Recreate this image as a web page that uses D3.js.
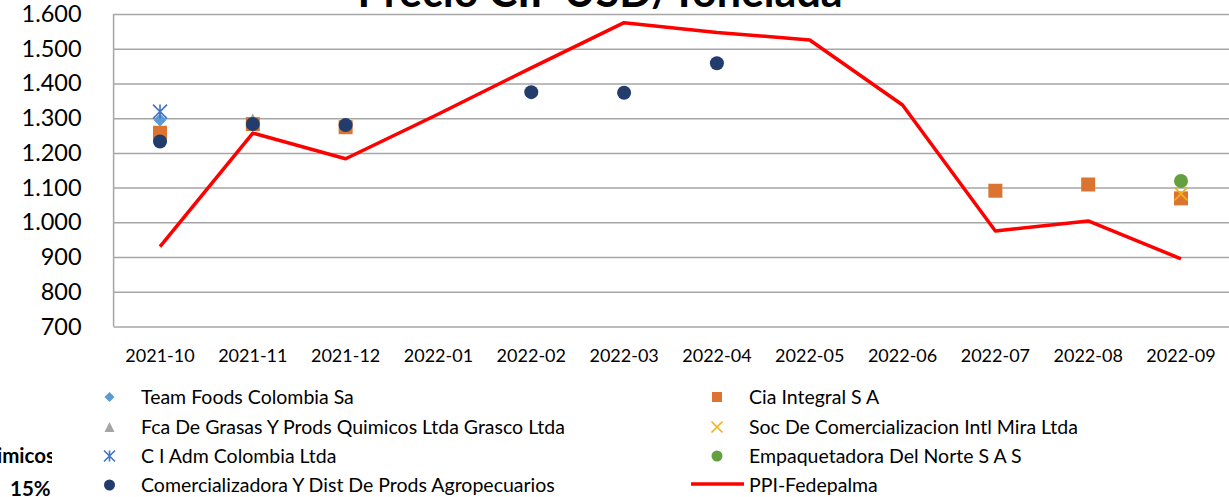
<!DOCTYPE html>
<html>
<head>
<meta charset="utf-8">
<script src="https://cdn.jsdelivr.net/npm/d3@7"></script>
<style>
  body { margin: 0; background: #fff; }
  svg { display: block; font-family: Lato, 'Open Sans', sans-serif; }
</style>
</head>
<body>
<div id="chart"></div>
<script>
const months = ['2021-10', '2021-11', '2021-12', '2022-01', '2022-02', '2022-03',
  '2022-04', '2022-05', '2022-06', '2022-07', '2022-08', '2022-09'];
const yTicks = [700, 800, 900, 1000, 1100, 1200, 1300, 1400, 1500, 1600];

// one value per month, null where the company had no import
const teamFoods = [1295, null, null, null, null, null, null, null, null, null, null, null];
const ciaIntegral = [1258, 1283, 1274, null, null, null, null, null, null, 1091, 1109, 1069];
const grasco = [null, 1297, null, null, null, null, null, null, null, null, null, null];
const socMira = [null, null, null, null, null, null, null, null, null, null, null, 1082];
const ciAdm = [1319, null, null, null, null, null, null, null, null, null, null, null];
const empaquetadora = [null, null, null, null, null, null, null, null, null, null, null, 1119];
const comercializadora = [1233, 1283, 1280, null, 1375, 1373, 1458, null, null, null, null, null];
const ppi = [930, 1257, 1183, 1312, 1445, 1575, 1547, 1525, 1338, 975, 1004, 895];

const width = 1229;
const height = 497;
const plot = { left: 113.6, right: 1227.4, top: 14, bottom: 326.5 };

const svg = d3.select('#chart').append('svg')
  .attr('width', width)
  .attr('height', height);

const x = d3.scaleBand().domain(months).range([plot.left, plot.right]);
const y = d3.scaleLinear().domain([700, 1600]).range([plot.bottom, plot.top]);
const cx = m => x(m) + x.bandwidth() / 2;

const locale = d3.formatLocale({ decimal: ',', thousands: '.', grouping: [3], currency: ['$', ''] });
const fmt = locale.format(',d');

// marker shapes (size = full width in px)
const shapes = {
  diamond: s => `M0,${-s / 2}L${s / 2},0L0,${s / 2}L${-s / 2},0Z`,
  square: s => `M${-s / 2},${-s / 2}h${s}v${s}h${-s}Z`,
  triangle: s => `M0,${-s / 2}L${s / 2},${s / 2}L${-s / 2},${s / 2}Z`,
  x: s => `M${-s / 2},${-s / 2}L${s / 2},${s / 2}M${s / 2},${-s / 2}L${-s / 2},${s / 2}`,
  star: s => `M${-s / 2},${-s / 2}L${s / 2},${s / 2}M${s / 2},${-s / 2}L${-s / 2},${s / 2}M0,${-s / 2}V${s / 2}`
};

const series = [
  { name: 'Team Foods Colombia Sa', values: teamFoods, shape: 'diamond', color: '#5B9BD5', size: 13, lsize: 10 },
  { name: 'Cia Integral S A', values: ciaIntegral, shape: 'square', color: '#DB7430', size: 14, lsize: 10 },
  { name: 'Fca De Grasas Y Prods Quimicos Ltda Grasco Ltda', values: grasco, shape: 'triangle', color: '#A5A5A5', size: 12, lsize: 10 },
  { name: 'Soc De Comercializacion Intl Mira Ltda', values: socMira, shape: 'x', color: '#F2B01E', size: 13, lsize: 11 },
  { name: 'C I Adm Colombia Ltda', values: ciAdm, shape: 'star', color: '#4472C4', size: 14, lsize: 11 },
  { name: 'Empaquetadora Del Norte S A S', values: empaquetadora, shape: 'circle', color: '#64A040', size: 14, lsize: 11 },
  { name: 'Comercializadora Y Dist De Prods Agropecuarios', values: comercializadora, shape: 'circle', color: '#223C6C', size: 14, lsize: 11 }
];

// Grid
svg.append('g')
  .attr('transform', `translate(${plot.left},0)`)
  .call(d3.axisLeft(y).tickValues(yTicks).tickSize(-(plot.right - plot.left + 2)).tickFormat(''))
  .call(g => g.select('.domain').remove())
  .call(g => g.selectAll('line').attr('stroke', '#A6A6A6').attr('stroke-width', 1.5));

svg.append('line')
  .attr('x1', plot.left).attr('x2', plot.left)
  .attr('y1', plot.top).attr('y2', plot.bottom)
  .attr('stroke', '#A6A6A6').attr('stroke-width', 1.5);

// Y axis labels
svg.append('g')
  .attr('transform', `translate(${plot.left},0)`)
  .call(d3.axisLeft(y).tickValues(yTicks).tickSize(0).tickPadding(32).tickFormat(fmt))
  .call(g => g.select('.domain').remove())
  .call(g => g.selectAll('text')
    .attr('font-family', 'Lato, sans-serif')
    .attr('font-size', 23.5)
    .attr('fill', '#000'));

// X axis labels
svg.append('g')
  .attr('transform', `translate(0,${plot.bottom})`)
  .call(d3.axisBottom(x).tickSize(0).tickPadding(22.5))
  .call(g => g.select('.domain').remove())
  .call(g => g.selectAll('text')
    .attr('font-family', 'Lato, sans-serif')
    .attr('font-size', 18)
    .attr('fill', '#000'));

// Scatter markers
const drawMarker = (sel, s, size) => {
  if (s.shape === 'circle') {
    sel.append('circle').attr('r', size / 2).attr('fill', s.color);
  } else if (s.shape === 'x' || s.shape === 'star') {
    sel.append('path').attr('d', shapes[s.shape](size))
      .attr('fill', 'none').attr('stroke', s.color).attr('stroke-width', 1.6);
  } else {
    sel.append('path').attr('d', shapes[s.shape](size)).attr('fill', s.color);
  }
};

series.forEach(s => {
  const pts = months.map((m, i) => ({ m, v: s.values[i] })).filter(d => d.v !== null);
  svg.append('g').selectAll('g')
    .data(pts)
    .enter()
    .append('g')
    .attr('transform', d => `translate(${cx(d.m)},${y(d.v)})`)
    .each(function () { drawMarker(d3.select(this), s, s.size); });
});

// PPI line
const line = d3.line().x((d, i) => cx(months[i])).y(d => y(d));
svg.append('path')
  .datum(ppi)
  .attr('d', line)
  .attr('fill', 'none')
  .attr('stroke', '#FF0000')
  .attr('stroke-width', 3.5)
  .attr('stroke-linejoin', 'round');

// Title (cut by the top edge)
svg.append('text')
  .attr('x', 600)
  .attr('y', 7)
  .attr('text-anchor', 'middle')
  .attr('font-family', 'Lato, sans-serif')
  .attr('font-weight', 'bold')
  .attr('font-size', 43)
  .text('Precio CIF USD/Tonelada');

// Legend
const legendRows = [397, 427, 456, 485];
const legendItems = [
  series[0], series[1], series[2], series[3], series[4], series[5], series[6], { name: 'PPI-Fedepalma', line: true }
];
legendItems.forEach((s, i) => {
  const col = i % 2;
  const row = Math.floor(i / 2);
  const mx = col === 0 ? 109.5 : 717;
  const tx = col === 0 ? 141 : 749;
  const ly = legendRows[row];
  const g = svg.append('g');
  if (s.line) {
    g.append('line')
      .attr('x1', 691).attr('x2', 744)
      .attr('y1', ly - 1).attr('y2', ly - 1)
      .attr('stroke', '#FF0000').attr('stroke-width', 3.5);
  } else {
    drawMarker(g.append('g').attr('transform', `translate(${mx},${ly})`), s, s.lsize);
  }
  g.append('text')
    .attr('x', tx)
    .attr('y', ly)
    .attr('dy', '0.35em')
    .attr('font-family', 'Lato, sans-serif')
    .attr('font-size', 19.5)
    .text(s.name);
});

// fragments of a neighbouring element, clipped by the chart
svg.append('clipPath').attr('id', 'cut')
  .append('rect').attr('x', 0).attr('y', 430).attr('width', 52).attr('height', 67);
const frag = svg.append('g').attr('clip-path', 'url(#cut)')
  .attr('font-family', 'Lato, sans-serif').attr('font-weight', 'bold').attr('font-size', 20.5);
frag.append('text').attr('x', 55).attr('y', 456).attr('dy', '0.35em').attr('text-anchor', 'end').text('Quimicos');
frag.append('text').attr('x', 10).attr('y', 489).attr('dy', '0.35em').text('15%');
</script>
</body>
</html>
